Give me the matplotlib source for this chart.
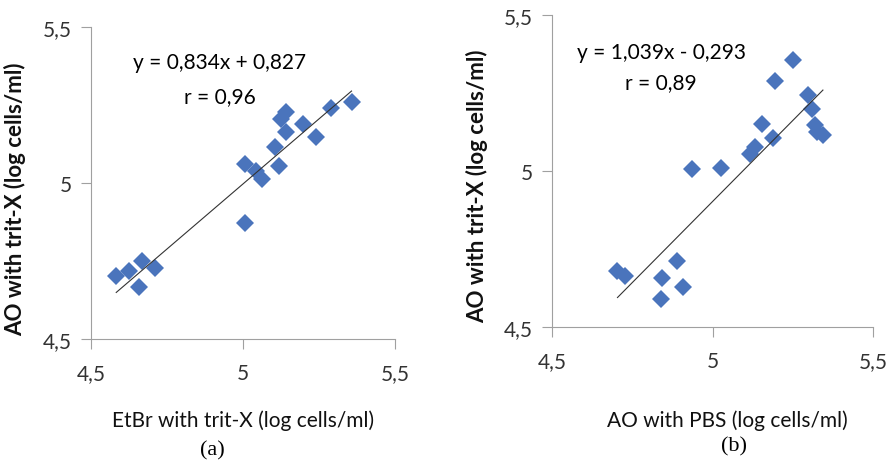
import matplotlib.pyplot as plt
import numpy as np

# panel (a): EtBr with trit-X vs AO with trit-X
etbr_x = [4.583, 4.625, 4.669, 4.658, 4.711, 5.005, 5.007, 5.044, 5.063,
          5.104, 5.117, 5.126, 5.142, 5.142, 5.197, 5.239, 5.291, 5.357]
etbr_y = [4.703, 4.719, 4.751, 4.666, 4.727, 5.061, 4.872, 5.039, 5.013,
          5.114, 5.056, 5.205, 5.226, 5.162, 5.189, 5.146, 5.239, 5.260]
fit_a = (0.834, 0.827)

# panel (b): AO with PBS vs AO with trit-X
pbs_x = [4.704, 4.728, 4.839, 4.842, 4.888, 4.909, 4.937, 5.025, 5.116, 5.131,
         5.155, 5.190, 5.196, 5.252, 5.297, 5.311, 5.318, 5.325, 5.344]
pbs_y = [4.678, 4.665, 4.591, 4.657, 4.713, 4.628, 5.005, 5.010, 5.055, 5.077,
         5.152, 5.106, 5.287, 5.357, 5.245, 5.200, 5.148, 5.125, 5.116]
fit_b = (1.039, -0.293)

ticks = [4.5, 5.0, 5.5]
tick_labels = ["4,5", "5", "5,5"]

plt.rcParams['font.family'] = ['Lato', 'DejaVu Sans']

W, H = 889, 464
fig = plt.figure(figsize=(W / 100, H / 100), dpi=100)

def box(l, t, r, b):
    return [l / W, 1 - b / H, (r - l) / W, (b - t) / H]

def panel(ax, x, y, fit, xlabel, eq, r_txt, eq_pos, r_pos, xl_pos, yl_pos):
    ax.plot(x, y, 'D', color='#4a74bc', markersize=9.5, markeredgewidth=0)
    xs = np.array([min(x), max(x)])
    ax.plot(xs, fit[0] * xs + fit[1], color='#333333', lw=0.8)
    ax.set_xlim(4.5, 5.5)
    ax.set_ylim(4.5, 5.5)
    ax.set_xticks(ticks)
    ax.set_xticklabels(tick_labels)
    ax.set_yticks(ticks)
    ax.set_yticklabels(tick_labels)
    for s in ['top', 'right']:
        ax.spines[s].set_visible(False)
    for s in ['left', 'bottom']:
        ax.spines[s].set_color('#a0a0a0')
    ax.tick_params(direction='out', length=7, color='#a0a0a0', labelsize=15,
                   labelcolor='#333333')
    ax.tick_params(axis='x', pad=10)
    ax.tick_params(axis='y', pad=7)
    ax.set_xlabel(xlabel, fontsize=15, color='#111111')
    ax.xaxis.set_label_coords(*xl_pos)
    ax.set_ylabel("AO with trit-X (log cells/ml)", fontsize=16, fontweight='bold',
                  color='#111111')
    ax.yaxis.set_label_coords(*yl_pos)
    ax.text(eq_pos[0], eq_pos[1], eq, fontsize=15, ha='center', va='center')
    ax.text(r_pos[0], r_pos[1], r_txt, fontsize=15, ha='center', va='center')

ax1 = fig.add_axes(box(91, 28, 395, 340))
panel(ax1, etbr_x, etbr_y, fit_a, "EtBr with trit-X (log cells/ml)",
      "y = 0,834x + 0,827", "r = 0,96", (4.924, 5.388), (4.924, 5.279),
      (0.5, -0.225), (-0.215, 0.45))

ax2 = fig.add_axes(box(552, 16, 873, 328))
panel(ax2, pbs_x, pbs_y, fit_b, "AO with PBS (log cells/ml)",
      "y = 1,039x - 0,293", "r = 0,89", (4.84, 5.381), (4.84, 5.285),
      (0.545, -0.265), (-0.2, 0.455))

fig.text(212 / W, 1 - 451 / H, "(a)", family='Liberation Serif', fontsize=16,
         ha='center', va='center')
fig.text(734 / W, 1 - 447 / H, "(b)", family='Liberation Serif', fontsize=16,
         ha='center', va='center')

fig.savefig("out.png", dpi=100)
